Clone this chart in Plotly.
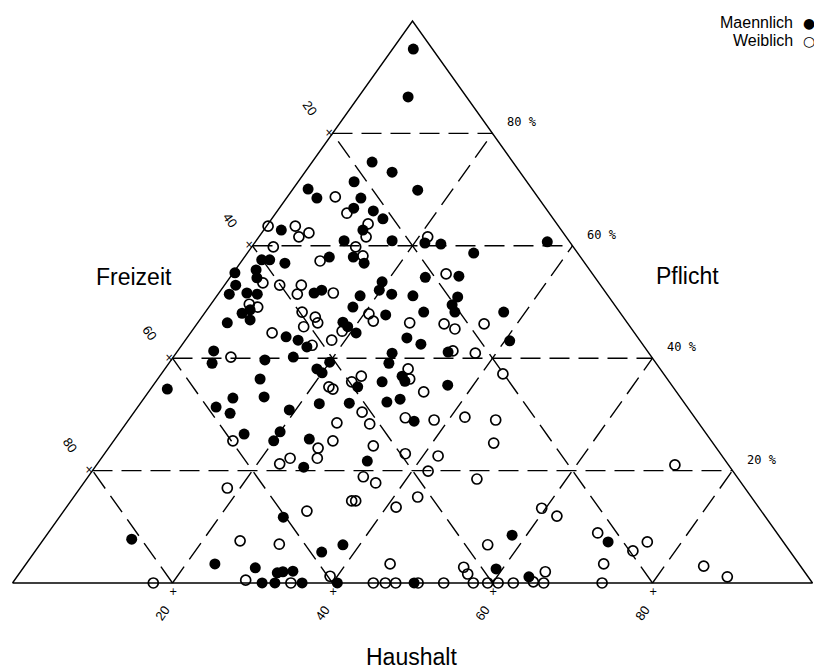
import plotly.graph_objects as go

# ---------------- data (percent shares: Pflicht, Haushalt, Freizeit) ----------------
m_pflicht = [95.0, 86.5, 74.9, 73.1, 69.9, 71.4, 70.1, 68.5, 68.5, 66.7, 66.2, 64.8, 62.8, 62.8,
             60.9, 60.9, 60.5, 60.3, 58.7, 58.0, 58.0, 56.9, 57.5, 57.5, 56.9, 55.2, 55.7, 54.3,
             53.0, 51.4, 51.6, 51.4, 51.6, 52.1, 54.4, 54.6, 53.6, 52.1, 51.4, 51.1, 51.1, 50.9,
             60.7, 48.0, 48.6, 46.8, 46.3, 49.1, 47.7, 48.2, 49.5, 48.2, 48.2, 43.1, 46.4, 45.6,
             44.5, 43.8, 43.2, 42.0, 43.6, 42.5, 41.1, 41.3, 39.1, 39.7, 40.2, 39.3, 38.1, 37.4,
             40.9, 39.1, 36.3, 33.1, 34.5, 32.9, 31.3, 30.2, 34.9, 35.8, 36.8, 35.9, 35.2, 32.2,
             32.7, 31.9, 32.0, 30.8, 26.9, 25.3, 26.5, 25.6, 28.8, 21.7, 20.6, 11.7, 7.8, 5.5,
             6.8, 3.4, 2.7, 1.8, 2.0, 2.1, 0.0, 0.0, 0.0, 0.0, 0.0, 8.5, 7.3, 2.5, 1.1]
m_haushalt = [2.6, 6.2, 7.5, 10.9, 15.7, 7.0, 1.9, 3.8, 9.3, 9.3, 12.0, 13.9, 12.4, 2.2,
              11.0, 17.0, 21.3, 23.4, 28.3, 10.6, 13.6, 15.5, 2.4, 3.4, 5.6, 0.2, 2.6, 3.4,
              1.4, 1.4, 3.5, 4.9, 11.9, 12.6, 24.4, 28.5, 19.4, 19.8, 21.7, 17.9, 24.5, 30.2,
              36.5, 4.7, 5.4, 6.3, 3.7, 18.0, 22.8, 27.3, 30.2, 31.2, 37.3, 40.6, 18.1, 19.1,
              20.7, 12.3, 14.1, 15.8, 27.5, 29.8, 33.9, 4.5, 5.4, 11.7, 15.0, 20.0, 19.0, 20.0,
              27.0, 27.5, 12.8, 14.9, 2.1, 11.1, 9.8, 12.1, 25.7, 28.3, 30.3, 31.1, 36.8, 30.7,
              32.1, 22.4, 26.1, 19.2, 20.0, 20.0, 15.7, 24.3, 35.8, 33.5, 26.1, 28.0, 11.0, 35.9,
              37.9, 23.6, 29.0, 32.2, 32.8, 34.0, 31.2, 32.8, 36.2, 40.6, 50.2, 58.2, 70.8, 59.2, 64.0]
m_freizeit = [2.4, 7.3, 17.6, 16.0, 14.4, 21.6, 28.0, 27.7, 22.2, 24.0, 21.8, 21.3, 24.8, 35.0,
              28.1, 22.1, 18.2, 16.3, 13.0, 31.4, 28.4, 27.6, 40.1, 39.1, 37.5, 44.6, 41.7, 42.3,
              45.6, 47.2, 44.9, 43.7, 36.5, 35.3, 21.2, 16.9, 27.0, 28.1, 26.9, 31.0, 24.4, 18.9,
              2.8, 47.3, 46.0, 46.9, 50.0, 32.9, 29.5, 24.5, 20.3, 20.6, 14.5, 16.3, 35.5, 35.3,
              34.8, 43.9, 42.7, 42.2, 28.9, 27.7, 25.0, 54.2, 55.5, 48.6, 44.8, 40.7, 42.9, 42.6,
              32.1, 33.4, 50.9, 52.0, 63.4, 56.0, 58.9, 57.7, 39.4, 35.9, 32.9, 33.0, 28.0, 37.1,
              35.2, 45.7, 41.9, 50.0, 53.1, 54.7, 57.8, 50.1, 35.4, 44.8, 53.3, 60.3, 81.2, 58.6,
              55.3, 73.0, 68.3, 66.0, 65.2, 63.9, 68.8, 67.2, 63.8, 59.4, 49.8, 33.3, 21.9, 38.3, 34.9]

w_pflicht = [68.7, 65.8, 63.9, 61.6, 63.5, 63.5, 62.3, 61.6, 59.8, 59.8, 61.6, 57.3, 58.2, 55.0,
             53.4, 53.0, 53.0, 51.4, 51.6, 49.6, 49.1, 48.2, 47.3, 46.3, 45.6, 44.5, 42.3, 43.2,
             47.9, 46.6, 46.3, 46.1, 45.2, 46.1, 41.3, 40.9, 40.2, 37.2, 34.9, 34.5, 35.8, 36.8,
             38.1, 36.3, 34.0, 30.4, 28.5, 28.3, 29.4, 29.0, 29.5, 29.0, 24.9, 25.3, 24.0, 25.3,
             24.4, 22.2, 22.2, 21.2, 23.0, 22.6, 19.9, 18.9, 17.8, 16.9, 14.6, 14.6, 12.8, 13.5,
             15.3, 18.5, 7.5, 6.9, 3.4, 0.5, 0.0, 1.2, 0.0, 0.0, 0.0, 0.0, 0.0, 0.0, 0.0, 0.0,
             0.0, 0.0, 0.0, 0.0, 13.3, 11.9, 6.8, 8.9, 5.7, 7.3, 3.4, 21.0, 3.0, 1.1, 2.8, 1.6,
             0.2, 2.0, 44.8]
w_haushalt = [6.0, 8.9, 12.5, 13.4, 0.2, 3.6, 5.9, 5.0, 2.7, 13.0, 21.1, 9.8, 14.7, 26.7,
              4.6, 6.9, 9.6, 9.9, 14.3, 4.8, 6.1, 12.1, 14.2, 15.0, 13.6, 10.2, 16.3, 18.3,
              20.6, 21.8, 26.5, 30.9, 32.7, 35.9, 34.4, 37.4, 7.2, 42.7, 22.1, 22.8, 24.5, 25.2,
              30.4, 31.5, 34.4, 28.5, 26.3, 30.5, 34.4, 38.2, 41.8, 45.9, 47.7, 14.9, 26.2, 27.4,
              32.9, 27.0, 23.6, 22.8, 37.6, 41.9, 42.0, 34.4, 36.5, 18.4, 35.1, 35.6, 30.4, 41.2,
              43.0, 48.8, 24.7, 29.9, 45.5, 28.9, 34.8, 39.1, 17.6, 45.1, 46.6, 47.9, 50.7, 53.9,
              57.6, 59.4, 60.7, 62.6, 66.4, 73.7, 59.5, 62.1, 56.0, 68.7, 74.7, 75.7, 72.2, 72.3,
              84.9, 88.8, 55.0, 56.1, 65.0, 65.6, 18.8]
w_freizeit = [25.3, 25.3, 23.6, 25.0, 36.3, 32.9, 31.8, 33.4, 37.5, 27.2, 17.3, 32.9, 27.1, 18.3,
              42.0, 40.1, 37.4, 38.7, 34.1, 45.6, 44.8, 39.7, 38.5, 38.7, 40.8, 45.3, 41.4, 38.5,
              31.5, 31.6, 27.2, 23.0, 22.1, 18.0, 24.3, 21.7, 52.6, 20.1, 43.0, 42.7, 39.7, 38.0,
              31.5, 32.2, 31.6, 41.1, 45.2, 41.2, 36.2, 32.8, 28.7, 25.1, 27.4, 59.8, 49.8, 47.3,
              42.7, 50.8, 54.2, 56.0, 39.4, 35.5, 38.1, 46.7, 45.7, 64.7, 50.3, 49.8, 56.8, 45.3,
              41.7, 32.7, 67.8, 63.2, 51.1, 70.6, 65.2, 59.7, 82.4, 54.9, 53.4, 52.1, 49.3, 46.1,
              42.4, 40.6, 39.3, 37.4, 33.6, 26.3, 27.2, 26.0, 37.2, 22.4, 19.6, 17.0, 24.4, 6.7,
              12.1, 10.1, 42.2, 42.3, 34.8, 32.4, 36.4]

grid_levels = [20, 40, 60, 80]
left_labels = ["20", "40", "60", "80"]
bottom_labels = ["20", "40", "60", "80"]
right_labels = ["20 %", "40 %", "60 %", "80 %"]
axis_titles = {"left": "Freizeit", "right": "Pflicht", "bottom": "Haushalt"}
legend_names = ["Maennlich", "Weiblich"]


# ternary (Freizeit, Haushalt, Pflicht) -> plane coordinates
# Freizeit vertex bottom-left, Haushalt vertex bottom-right, Pflicht vertex top
def tern(f, h, p):
    s = f + h + p
    return 100.0 * (h + p / 2.0) / s, 100.0 * p / s


def tern_list(fs, hs, ps):
    xs, ys = [], []
    for f, h, p in zip(fs, hs, ps):
        x, y = tern(f, h, p)
        xs.append(x)
        ys.append(y)
    return xs, ys


fig = go.Figure()

# outer triangle
tri_x, tri_y = tern_list([100, 0, 0, 100], [0, 100, 0, 0], [0, 0, 100, 0])
fig.add_trace(go.Scatter(x=tri_x, y=tri_y, mode="lines",
                         line=dict(color="black", width=1.4), hoverinfo="skip", showlegend=False))

# dashed grid
gx, gy = [], []
for v in grid_levels:
    segs = [((100 - v, 0, v), (0, 100 - v, v)),      # constant Pflicht
            ((100 - v, v, 0), (0, v, 100 - v)),      # constant Haushalt
            ((v, 100 - v, 0), (v, 0, 100 - v))]      # constant Freizeit
    for a, b in segs:
        x1, y1 = tern(*a)
        x2, y2 = tern(*b)
        gx += [x1, x2, None]
        gy += [y1, y2, None]
fig.add_trace(go.Scatter(x=gx, y=gy, mode="lines",
                         line=dict(color="black", width=1.4, dash="20px,9px"),
                         hoverinfo="skip", showlegend=False))

# points
wx, wy = tern_list(w_freizeit, w_haushalt, w_pflicht)
fig.add_trace(go.Scatter(x=wx, y=wy, mode="markers", name=legend_names[1],
                         marker=dict(symbol="circle-open", size=10, color="black",
                                     line=dict(width=1.7, color="black")),
                         showlegend=False))
mx, my = tern_list(m_freizeit, m_haushalt, m_pflicht)
fig.add_trace(go.Scatter(x=mx, y=my, mode="markers", name=legend_names[0],
                         marker=dict(symbol="circle", size=11, color="black",
                                     line=dict(width=0)),
                         showlegend=False))

annotations = []
tick_font = dict(family="Liberation Sans", size=13, color="black")
for v, lab in zip(grid_levels, left_labels):
    x, y = tern(v, 0, 100 - v)
    annotations.append(dict(x=x, y=y, xref="x", yref="y", text=lab, showarrow=False,
                            xanchor="center", yanchor="middle",
                            textangle=55, font=tick_font, xshift=-23, yshift=26))
    annotations.append(dict(x=x, y=y, xref="x", yref="y", text="×", showarrow=False,
                            xanchor="center", yanchor="middle",
                            font=dict(family="DejaVu Sans", size=10, color="black"),
                            xshift=-4, yshift=1))
for v, lab in zip(grid_levels, bottom_labels):
    x, y = tern(100 - v, v, 0)
    annotations.append(dict(x=x, y=y, xref="x", yref="y", text=lab, showarrow=False,
                            xanchor="center", yanchor="middle",
                            textangle=-55, font=tick_font, xshift=-10, yshift=-31))
    annotations.append(dict(x=x, y=y, xref="x", yref="y", text="+", showarrow=False,
                            xanchor="center", yanchor="middle",
                            font=dict(family="DejaVu Sans", size=10, color="black"),
                            xshift=0, yshift=-9))
for v, lab in zip(grid_levels, right_labels):
    x, y = tern(0, 100 - v, v)
    annotations.append(dict(x=x, y=y, xref="x", yref="y", text=lab, showarrow=False,
                            xanchor="left", yanchor="middle",
                            font=dict(family="DejaVu Sans Mono", size=12, color="black"),
                            xshift=12, yshift=11))

title_font = dict(family="Liberation Sans", size=23, color="black")
annotations += [
    dict(x=0.1646, y=0.588, xref="paper", yref="paper", text=axis_titles["left"],
         showarrow=False, xanchor="center", yanchor="middle", font=title_font),
    dict(x=0.844, y=0.589, xref="paper", yref="paper", text=axis_titles["right"],
         showarrow=False, xanchor="center", yanchor="middle", font=title_font),
    dict(x=0.506, y=0.022, xref="paper", yref="paper", text=axis_titles["bottom"],
         showarrow=False, xanchor="center", yanchor="middle", font=title_font),
]

leg_font = dict(family="Liberation Sans", size=16, color="black")
annotations += [
    dict(x=0.977, y=0.966, xref="paper", yref="paper", text=legend_names[0], showarrow=False,
         xanchor="right", yanchor="middle", font=leg_font),
    dict(x=0.977, y=0.939, xref="paper", yref="paper", text=legend_names[1], showarrow=False,
         xanchor="right", yanchor="middle", font=leg_font),
    dict(x=0.984, y=0.966, xref="paper", yref="paper", text="●", showarrow=False,
         xanchor="left", yanchor="middle", font=dict(family="DejaVu Sans", size=14, color="black")),
    dict(x=0.984, y=0.939, xref="paper", yref="paper", text="○", showarrow=False,
         xanchor="left", yanchor="middle", font=dict(family="DejaVu Sans", size=14, color="black")),
]

fig.update_layout(
    width=814, height=672, autosize=False,
    margin=dict(l=0, r=0, t=0, b=0),
    paper_bgcolor="white", plot_bgcolor="white",
    xaxis=dict(range=[-1.5625, 100.1875], visible=False, fixedrange=True),
    yaxis=dict(range=[-15.84, 103.74], visible=False, fixedrange=True),
    annotations=annotations,
    showlegend=False,
)

fig.write_html("out.html")
